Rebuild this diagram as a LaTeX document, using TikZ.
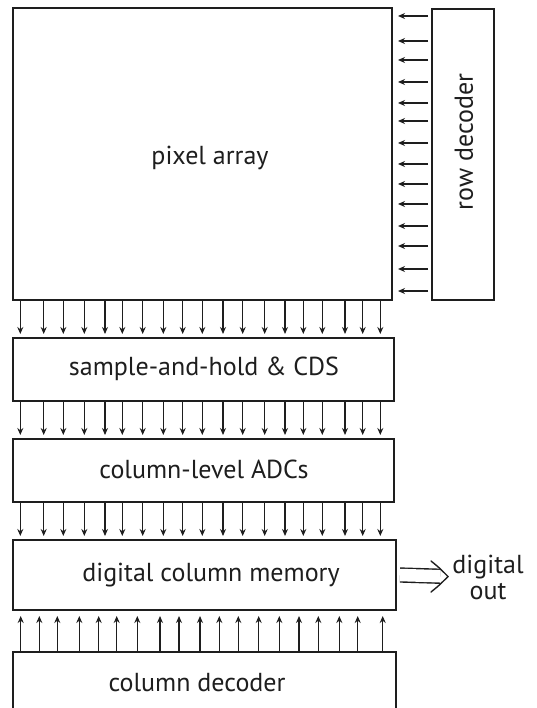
\documentclass[tikz,border=0pt]{standalone}
\usepackage{fontspec}
\setmainfont{PT Sans}
\usetikzlibrary{arrows.meta}
\definecolor{ink}{HTML}{1E1E1E}
\begin{document}
\begin{tikzpicture}[x=1pt,y=-1pt,
  blk/.style={draw=ink, line width=1.8pt, inner sep=0pt, outer sep=0pt},
  lbl/.style={text=ink, font=\fontsize{26}{28}\selectfont, inner sep=0pt},
  arr/.style={draw=ink, line width=1.4pt, -{Stealth[length=7pt,width=6pt]}},
]
\useasboundingbox (0,0) rectangle (536,708);
\clip (0,0) rectangle (536,708);
\fill[white] (0,0) rectangle (536,708);
% boxes
\node[blk, minimum width=379pt, minimum height=292pt] (pix) at (202.5,154) {};
\node[blk, minimum width=62pt, minimum height=291pt] (row) at (463,154.5) {};
\node[blk, minimum width=381pt, minimum height=63pt] (sh) at (203.5,369.5) {};
\node[blk, minimum width=381pt, minimum height=63pt] (adc) at (203.5,470.5) {};
\node[blk, minimum width=383pt, minimum height=70pt] (mem) at (204.5,575) {};
\node[blk, minimum width=383pt, minimum height=80pt] (col) at (204.5,692) {};
% labels
\node[lbl] (tpix) at (210,158) {pixel array};
\node[lbl, rotate=90] (trow) at (464,142) {row decoder};
\node[lbl] (tsh) at (204,369) {sample-and-hold \& CDS};
\node[lbl] (tadc) at (204,469) {column-level ADCs};
\node[lbl] (tmem) at (211,575) {digital column memory};
\node[lbl] (tcol) at (197,683) {column decoder};
\node[lbl, align=center] (tout) at (488,577) {digital\\[-2pt]out};
% row arrows
\foreach \y in {16,41,60,82,103,121,143,164,184,204,226,246,269,291}
  \draw[arr, shorten <=4pt, shorten >=6pt] (row.west |- 0,\y) -- (pix.east |- 0,\y);
% column arrows pixel -> S&H
\foreach \x in {20.3,43.7,63.3,84.3,105,122.3,142.7,163.3,182.7,202.3,223,242.7,264.7,285,303.3,322.3,345,362.7,380.3}
  \draw[arr, shorten >=4pt] (pix.south -| \x,0) -- (sh.north -| \x,0);
% S&H -> ADC
\foreach \x in {20.3,43.7,63.3,84.3,105,122.3,142.7,163.3,182.7,202.3,223,242.7,264.7,285,303.3,322.3,345,362.7,380.3}
  \draw[arr, shorten >=4pt] (sh.south -| \x,0) -- (adc.north -| \x,0);
% ADC -> memory
\foreach \x in {20.3,43.7,63.3,84.3,105,122.3,142.7,163.3,182.7,202.3,223,242.7,264.7,285,303.3,322.3,345,362.7,380.3}
  \draw[arr, shorten >=4pt] (adc.south -| \x,0) -- (mem.north -| \x,0);
% column decoder -> memory
\foreach \x in {20.7,39.3,57.3,79.3,98.7,116.7,137.3,160,179,200,219.3,238.3,258.7,279.3,299,318.3,339.3,357.7,382.7}
  \draw[arr, shorten <=1pt, shorten >=6pt] (col.north -| \x,0) -- (mem.south -| \x,0);
% digital out double arrow
\coordinate (dstart) at ([xshift=4pt]mem.east);
\coordinate (dend) at (448,576.5);
\draw[ink, line width=1.4pt, double, double distance=12.5pt, shorten >=8pt] (dstart) -- (dend);
\draw[ink, line width=1.4pt, line join=miter, line cap=round]
  ([shift={(-17,-15.5)}]dend) .. controls ([shift={(-9,-9)}]dend) .. (dend)
  .. controls ([shift={(-9,9)}]dend) .. ([shift={(-17,15.5)}]dend);
\end{tikzpicture}
\end{document}
